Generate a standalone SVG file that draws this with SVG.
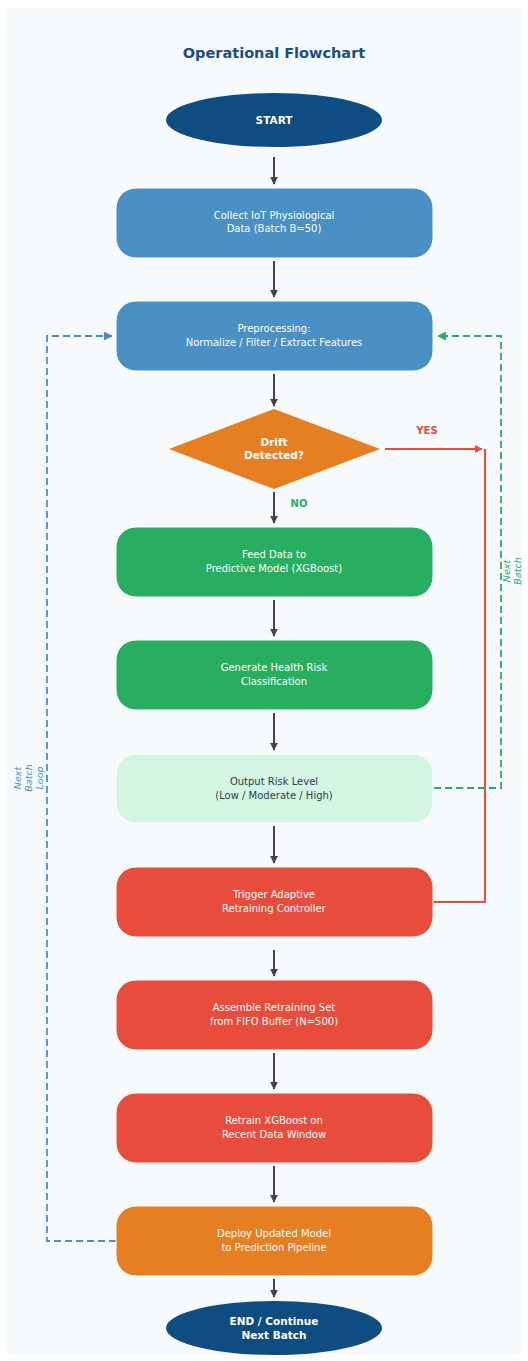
<svg xmlns="http://www.w3.org/2000/svg" width="528" height="1361" viewBox="0 0 528 1361">
<defs>
<marker id="ah" viewBox="0 0 10 10" refX="9" refY="5" markerWidth="4" markerHeight="4" orient="auto" markerUnits="strokeWidth"><path d="M0,0 L10,5 L0,10 z" fill="#444"/></marker>
<marker id="ahr" viewBox="0 0 10 10" refX="9" refY="5" markerWidth="4" markerHeight="4" orient="auto" markerUnits="strokeWidth"><path d="M0,0 L10,5 L0,10 z" fill="#e74c3c"/></marker>
<marker id="ahg" viewBox="0 0 10 10" refX="9" refY="5" markerWidth="5" markerHeight="5" orient="auto" markerUnits="strokeWidth"><path d="M0,0 L10,5 L0,10 z" fill="#27ae60"/></marker>
<marker id="ahb" viewBox="0 0 10 10" refX="9" refY="5" markerWidth="5" markerHeight="5" orient="auto" markerUnits="strokeWidth"><path d="M0,0 L10,5 L0,10 z" fill="#4a90c4"/></marker>
</defs>
<style>
text{font-family:"DejaVu Sans","Liberation Sans",sans-serif;text-anchor:middle}
.t{font-size:10px;fill:#ffffff}
.tb{font-size:10.5px;fill:#ffffff;font-weight:bold}
.td{font-size:10px;fill:#2c3e50}
.box{stroke:#ffffff;stroke-width:1}
.flow{stroke:#444;stroke-width:2;fill:none;marker-end:url(#ah)}
</style>
<rect x="0" y="0" width="528" height="1361" fill="#ffffff"/>
<rect x="6" y="7" width="516" height="1348" fill="#f7fafd"/>
<text x="274" y="58" style="font-size:14.5px;font-weight:bold;fill:#1a4f7f">Operational Flowchart</text>

<g id="connectors">
<line class="flow" x1="274" y1="157" x2="274" y2="184"/>
<line class="flow" x1="274" y1="261" x2="274" y2="297"/>
<line class="flow" x1="274" y1="374" x2="274" y2="406"/>
<line class="flow" x1="274" y1="492" x2="274" y2="523"/>
<line class="flow" x1="274" y1="600" x2="274" y2="636"/>
<line class="flow" x1="274" y1="713" x2="274" y2="750"/>
<line class="flow" x1="274" y1="826" x2="274" y2="863"/>
<line class="flow" x1="274" y1="950" x2="274" y2="976"/>
<line class="flow" x1="274" y1="1053" x2="274" y2="1089"/>
<line class="flow" x1="274" y1="1166" x2="274" y2="1202"/>
<line class="flow" x1="274" y1="1279" x2="274" y2="1297"/>
<!-- YES -->
<line x1="385" y1="449" x2="482" y2="449" stroke="#e74c3c" stroke-width="2" marker-end="url(#ahr)"/>
<polyline points="433,902 485,902 485,449" fill="none" stroke="#e74c3c" stroke-width="2"/>
<text x="427" y="434" style="font-size:10px;font-weight:bold;fill:#e74c3c">YES</text>
<text x="299" y="507" style="font-size:10px;font-weight:bold;fill:#27ae60">NO</text>
<!-- green loop -->
<polyline points="434,788 501,788 501,336 438,336" fill="none" stroke="#27ae60" stroke-width="1.8" stroke-dasharray="7,4" marker-end="url(#ahg)"/>
<text transform="translate(512,571) rotate(-90)" style="font-size:9.5px;font-style:italic;fill:#27ae60"><tspan x="0" dy="-2">Next</tspan><tspan x="0" dy="11">Batch</tspan></text>
<!-- blue loop -->
<polyline points="116,1241 47,1241 47,336 112,336" fill="none" stroke="#4a90c4" stroke-width="1.8" stroke-dasharray="7,4" marker-end="url(#ahb)"/>
<text transform="translate(29,778) rotate(-90)" style="font-size:9.5px;font-style:italic;fill:#4a90c4"><tspan x="0" dy="-8">Next</tspan><tspan x="0" dy="11">Batch</tspan><tspan x="0" dy="11">Loop</tspan></text>
</g>

<g id="start"><ellipse cx="274" cy="120" rx="108" ry="27" fill="#0f4c81"/><text class="tb" x="274" y="124">START</text></g>
<g id="collect"><rect class="box" x="116" y="188" width="317" height="70" rx="20" fill="#4a90c4"/><text class="t" x="274" y="219">Collect IoT Physiological</text><text class="t" x="274" y="232">Data (Batch B=50)</text></g>
<g id="preprocess"><rect class="box" x="116" y="301" width="317" height="70" rx="20" fill="#4a90c4"/><text class="t" x="274" y="332">Preprocessing:</text><text class="t" x="274" y="346">Normalize / Filter / Extract Features</text></g>
<g id="drift"><polygon points="274,409 380,449 274,489 169,449" fill="#e67e22"/><text class="tb" x="274" y="446">Drift</text><text class="tb" x="274" y="459">Detected?</text></g>
<g id="feed"><rect class="box" x="116" y="527" width="317" height="70" rx="20" fill="#27ae60"/><text class="t" x="274" y="558">Feed Data to</text><text class="t" x="274" y="572">Predictive Model (XGBoost)</text></g>
<g id="generate"><rect class="box" x="116" y="640" width="317" height="70" rx="20" fill="#27ae60"/><text class="t" x="274" y="671">Generate Health Risk</text><text class="t" x="274" y="685">Classification</text></g>
<g id="output"><rect class="box" x="116" y="754" width="317" height="69" rx="20" fill="#d5f5e3"/><text class="td" x="274" y="785">Output Risk Level</text><text class="td" x="274" y="799">(Low / Moderate / High)</text></g>
<g id="trigger"><rect class="box" x="116" y="867" width="317" height="70" rx="20" fill="#e74c3c"/><text class="t" x="274" y="898">Trigger Adaptive</text><text class="t" x="274" y="912">Retraining Controller</text></g>
<g id="assemble"><rect class="box" x="116" y="980" width="317" height="70" rx="20" fill="#e74c3c"/><text class="t" x="274" y="1011">Assemble Retraining Set</text><text class="t" x="274" y="1025">from FIFO Buffer (N=500)</text></g>
<g id="retrain"><rect class="box" x="116" y="1093" width="317" height="70" rx="20" fill="#e74c3c"/><text class="t" x="274" y="1124">Retrain XGBoost on</text><text class="t" x="274" y="1138">Recent Data Window</text></g>
<g id="deploy"><rect class="box" x="116" y="1206" width="317" height="70" rx="20" fill="#e67e22"/><text class="t" x="274" y="1237">Deploy Updated Model</text><text class="t" x="274" y="1251">to Prediction Pipeline</text></g>
<g id="end"><ellipse cx="274" cy="1328" rx="108" ry="27" fill="#0f4c81"/><text class="tb" x="274" y="1325">END / Continue</text><text class="tb" x="274" y="1339">Next Batch</text></g>
</svg>
